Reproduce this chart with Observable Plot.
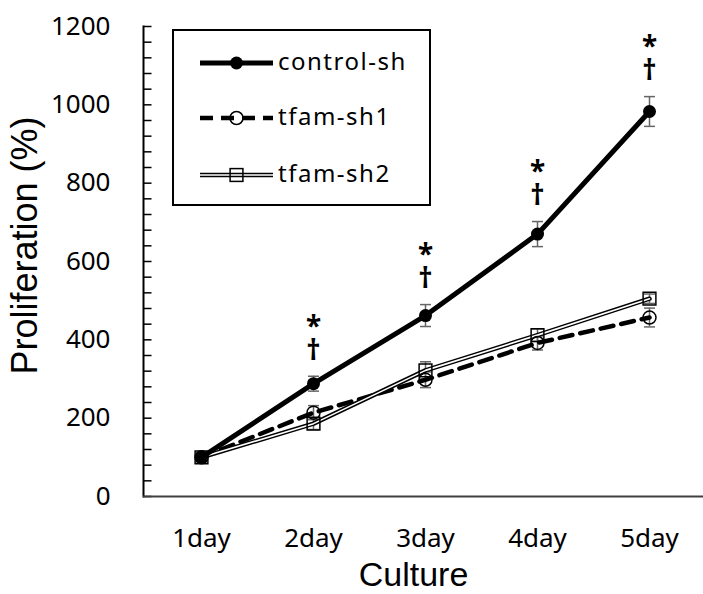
<!DOCTYPE html>
<html><head><meta charset="utf-8">
<script src="https://cdn.jsdelivr.net/npm/d3@7"></script>
<script src="https://cdn.jsdelivr.net/npm/@observablehq/plot@0.6"></script>
<style>
body{margin:0;background:#fff}
#wrap{position:relative;width:703px;height:594px}
#wrap svg.legend{position:absolute;left:0;top:0}
</style></head><body><div id="wrap"></div>
<script>
const days = ["1day","2day","3day","4day","5day"];
const seriesNames = ["control-sh","tfam-sh1","tfam-sh2"];
const controlSh = [100,288,462,670,983];
const controlErr = [5,19,28,32,38];
const tfamSh1 = [100,214,298,392,457];
const tfamSh1Err = [5,18,20,18,24];
const tfamSh2 = [100,186,322,412,505];
const tfamSh2Err = [5,15,22,16,12];
const yTicks = [0,200,400,600,800,1000,1200];
const minorTicks = d3.range(0,1201,40);
const sigDays = ["2day","3day","4day","5day"];
const sigMarks = ["*","\u2020"];

const mk = (vals, errs, name) => days.map((d,i)=>({day:d, value:vals[i], err:errs[i], series:name}));
const ctrl = mk(controlSh, controlErr, seriesNames[0]);
const sh1 = mk(tfamSh1, tfamSh1Err, seriesNames[1]);
const sh2 = mk(tfamSh2, tfamSh2Err, seriesNames[2]);
const all = [...ctrl, ...sh1, ...sh2];
const sig = ctrl.filter(d => sigDays.includes(d.day));
const errColor = "#666";
const capSymbol = {draw(ctx, size) { const r = Math.sqrt(size / Math.PI); ctx.moveTo(-r, 0); ctx.lineTo(r, 0); }};
const inTickSymbol = {draw(ctx, size) { const r = Math.sqrt(size / Math.PI); ctx.moveTo(0, 0); ctx.lineTo(r, 0); }};

const chart = Plot.plot({
  width: 703, height: 594,
  marginLeft: 143, marginRight: 0, marginTop: 26, marginBottom: 98,
  style: {fontFamily: "Noto Sans", fontSize: "26px", color: "#000", background: "#fff"},
  x: {type: "point", domain: days, range: [199, 650], padding: 0},
  y: {domain: [0, 1200]},
  marks: [
    Plot.dot(minorTicks, {y: d => d, frameAnchor: "left", symbol: inTickSymbol, r: 8, fill: "none", stroke: "#000", strokeWidth: 1.5}),
    Plot.frame({anchor: "left", stroke: "#000", strokeWidth: 2}),
    Plot.ruleY([0], {stroke: "#404040", strokeWidth: 2}),
    Plot.axisY({ticks: yTicks, tickFormat: d => String(d), tickSize: 0, tickPadding: 33, fontSize: 26, label: null}),
    Plot.axisX({tickSize: 0, tickPadding: 32, fontSize: 26, label: null}),
    Plot.text(["Proliferation (%)"], {frameAnchor: "left", textAnchor: "middle", rotate: -90, dx: -118, dy: -16, fontSize: 36, fontFamily: "Liberation Sans", lineAnchor: "middle"}),
    Plot.text(["Culture"], {frameAnchor: "bottom", dx: -10, dy: 79, fontSize: 34, fontFamily: "Liberation Sans", lineAnchor: "middle"}),
    // error bars
    Plot.ruleX(all, {x: "day", y1: d => d.value - d.err, y2: d => d.value + d.err, stroke: errColor, strokeWidth: 1.5}),
    Plot.dot(all, {x: "day", y: d => d.value + d.err, symbol: capSymbol, r: 5.5, fill: "none", stroke: errColor, strokeWidth: 1.5}),
    Plot.dot(all, {x: "day", y: d => d.value - d.err, symbol: capSymbol, r: 5.5, fill: "none", stroke: errColor, strokeWidth: 1.5}),
    // lines
    Plot.line(sh1, {x: "day", y: "value", stroke: "#000", strokeWidth: 4.5, strokeDasharray: "13,8"}),
    Plot.line(sh2, {x: "day", y: "value", stroke: "#000", strokeWidth: 4.5}),
    Plot.line(sh2, {x: "day", y: "value", stroke: "#fff", strokeWidth: 1.6}),
    Plot.line(ctrl, {x: "day", y: "value", stroke: "#000", strokeWidth: 5}),
    // markers
    Plot.dot(sh1, {x: "day", y: "value", r: 6.5, fill: "none", stroke: "#000", strokeWidth: 1.5}),
    Plot.dot(sh2, {x: "day", y: "value", r: 7.2, symbol: "square", fill: "none", stroke: "#000", strokeWidth: 1.5}),
    Plot.dot(ctrl, {x: "day", y: "value", r: 6.5, fill: "#000", stroke: "none"}),
    // significance
    Plot.text(sig, {x: "day", y: d => d.value + d.err, text: () => sigMarks.join("\n"), dy: -36, fontSize: 28, lineHeight: 0.86, fontWeight: "bold", lineAnchor: "middle"})
  ]
});
const wrap = document.getElementById("wrap");
wrap.appendChild(chart);

// legend overlay
const lg = d3.select(wrap).append("svg").attr("class", "legend").attr("width", 703).attr("height", 594);
lg.append("rect").attr("x", 173).attr("y", 30).attr("width", 257).attr("height", 175)
  .attr("fill", "#fff").attr("stroke", "#000").attr("stroke-width", 2);
const rowsY = [63, 118, 175];
const x0 = 200, x1 = 273, xm = 236.5;
lg.append("line").attr("x1", x0).attr("x2", x1).attr("y1", rowsY[0]).attr("y2", rowsY[0]).attr("stroke", "#000").attr("stroke-width", 5);
lg.append("circle").attr("cx", xm).attr("cy", rowsY[0]).attr("r", 6.5).attr("fill", "#000");
lg.append("line").attr("x1", x0).attr("x2", x1).attr("y1", rowsY[1]).attr("y2", rowsY[1]).attr("stroke", "#000").attr("stroke-width", 4.5).attr("stroke-dasharray", "13,8");
lg.append("circle").attr("cx", xm).attr("cy", rowsY[1]).attr("r", 6.5).attr("fill", "none").attr("stroke", "#000").attr("stroke-width", 1.5);
lg.append("line").attr("x1", x0).attr("x2", x1).attr("y1", rowsY[2]).attr("y2", rowsY[2]).attr("stroke", "#000").attr("stroke-width", 4.5);
lg.append("line").attr("x1", x0).attr("x2", x1).attr("y1", rowsY[2]).attr("y2", rowsY[2]).attr("stroke", "#fff").attr("stroke-width", 1.6);
lg.append("rect").attr("x", xm - 6.4).attr("y", rowsY[2] - 6.4).attr("width", 12.8).attr("height", 12.8).attr("fill", "none").attr("stroke", "#000").attr("stroke-width", 1.5);
seriesNames.forEach((n, i) => {
  lg.append("text").attr("x", 278).attr("y", rowsY[i] + 7).text(n)
    .attr("font-family", "Noto Sans").attr("font-size", 24).attr("letter-spacing", 1.5).attr("fill", "#000");
});
</script>
</body></html>
